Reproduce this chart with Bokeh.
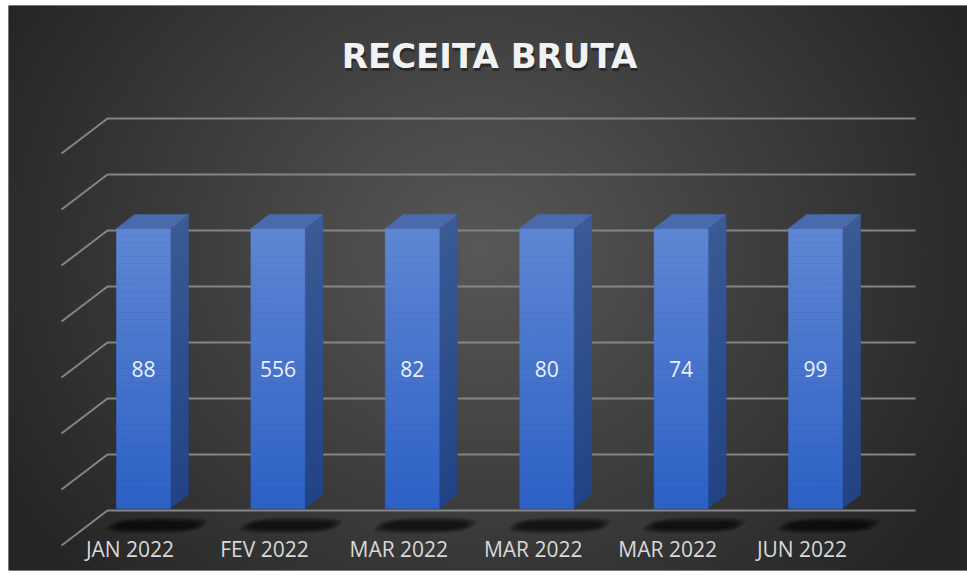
import numpy as np
from bokeh.plotting import figure
from bokeh.models import Range1d, ColumnDataSource
from bokeh.core.properties import value
from bokeh.embed import file_html
from bokeh.resources import INLINE

# ---------------- data ----------------
title_text = "RECEITA BRUTA"
categories = ["JAN 2022", "FEV 2022", "MAR 2022", "MAR 2022", "MAR 2022", "JUN 2022"]
label_values = [88, 556, 82, 80, 74, 99]
bar_heights = [5, 5, 5, 5, 5, 5]          # all columns reach the 5th gridline
grid_levels = [0, 1, 2, 3, 4, 5, 6, 7]

# ---------------- geometry (pixel -> data helpers) ----------------
W, H = 967, 575
BL, BT, BB, BR = 8, 5, 5, 0      # white border around the dark chart area
FX0, FY0 = BL, BT               # page position of the plotting frame
FW_PX, FH_PX = W - BL - BR, H - BT - BB
X_STEP_PX = 134.4               # pixels per category
X0_PX = 143.0                   # page x of category 0
Y_UNIT_PX = 56.0                # pixels per gridline unit
Y0_PX = 510.0                   # page y of value 0 on the back wall

def dx(px):
    return px / X_STEP_PX

def dy(px):
    return px / Y_UNIT_PX

def xd(page_x):
    return (page_x - X0_PX) / X_STEP_PX

def yd(page_y):
    return (Y0_PX - page_y) / Y_UNIT_PX

x_start, x_end = xd(FX0), xd(FX0 + FW_PX)
y_start, y_end = yd(FY0 + FH_PX), yd(FY0)

p = figure(width=W, height=H, x_range=Range1d(x_start, x_end), y_range=Range1d(y_start, y_end),
           toolbar_location=None, output_backend="svg",
           min_border_left=BL, min_border_top=BT, min_border_bottom=BB, min_border_right=BR)
p.axis.visible = False
p.grid.visible = False
p.outline_line_color = None
p.background_fill_color = "#262626"
p.border_fill_color = "white"

# ---------------- background radial gradient ----------------
jj = np.arange(FW_PX) + 0.5 + FX0
ii = (FY0 + FH_PX) - (np.arange(FH_PX) + 0.5)
PXg, PYg = np.meshgrid(jj, ii)
t = np.sqrt(((PXg - 480) / 560.0) ** 2 + ((PYg - 250) / 500.0) ** 2)
t = np.clip(t, 0, 1)
g = (88 - 52 * t).astype(np.uint32)
img = (g | (g << 8) | (g << 16) | (np.uint32(255) << 24)).astype(np.uint32)
p.image_rgba(image=[img], x=x_start, y=y_start, dw=x_end - x_start, dh=y_end - y_start)

# ---------------- back wall gridlines + left side ----------------
wall_l, wall_r = xd(107), xd(915)
side_dx, side_dy = dx(-46), dy(-35)
gx, gy = [], []
for lv in grid_levels:
    gx.append([wall_l + side_dx, wall_l, wall_r])
    gy.append([lv + side_dy, lv, lv])
p.multi_line(xs=gx, ys=gy, line_color="#858585", line_width=2)

# ---------------- shadows (soft skewed rounded shapes) ----------------
ang = np.linspace(0, 2 * np.pi, 48, endpoint=False)
cs, sn = np.cos(ang), np.sin(ang)
expo = 2.0 / 3.0
sx, sy, sa = [], [], []
for i in range(len(categories)):
    for k in range(12):
        e = 11 - 1.0 * k
        rx, ry = 38 + e, 3 + e * 0.5
        ex = rx * np.sign(cs) * np.abs(cs) ** expo
        ey = ry * np.sign(sn) * np.abs(sn) ** expo     # page-pixel offsets (down positive)
        ex = ex - ey * 1.2                              # skew: lower part shifts left
        sx.append(list(i + dx(13 + ex)))
        sy.append(list(yd(525 + ey)))
        sa.append(0.075)
p.patches(xs=sx, ys=sy, fill_color="#000000", fill_alpha=sa, line_color=None)

# ---------------- 3D columns ----------------
FW = dx(54)
DX, DY = dx(18), dy(14)
BASE = dy(2)
N = 40

def lerp(c1, c2, f):
    return "#%02x%02x%02x" % tuple(int(round(a + (b - a) * f)) for a, b in zip(c1, c2))

front_top, front_bot = (94, 134, 212), (45, 97, 198)
side_top, side_bot = (59, 90, 150), (33, 68, 134)
top_col = "#4a6aad"

fx, fy, fc = [], [], []
sxs, sys_, scs = [], [], []
tx, ty = [], []
for i, h in enumerate(bar_heights):
    l, r = i - FW / 2, i + FW / 2
    for k in range(N):
        y1 = BASE + h * k / N
        y2 = BASE + h * (k + 1) / N + 0.002
        f = (k + 0.5) / N
        fx.append([l, r, r, l]); fy.append([y1, y1, y2, y2]); fc.append(lerp(front_bot, front_top, f))
        sxs.append([r, r + DX, r + DX, r]); sys_.append([y1, y1 + DY, y2 + DY, y2])
        scs.append(lerp(side_bot, side_top, f))
    top = BASE + h
    tx.append([l, r, r + DX, l + DX]); ty.append([top, top, top + DY, top + DY])

p.patches(xs=sxs, ys=sys_, fill_color=scs, line_color=scs, line_width=0.5)
p.patches(xs=fx, ys=fy, fill_color=fc, line_color=fc, line_width=0.5)
p.patches(xs=tx, ys=ty, fill_color=top_col, line_color=top_col, line_width=0.5)

# ---------------- data labels ----------------
lab_src = ColumnDataSource(dict(
    x=list(range(len(categories))),
    y=[BASE + h / 2 for h in bar_heights],
    t=[str(v) for v in label_values]))
p.text(x="x", y="y", text="t", source=lab_src, text_font=value("Open Sans"),
       text_font_size="21px", text_align="center", text_baseline="middle", text_color="#eef1f8")

# ---------------- category labels ----------------
cat_src = ColumnDataSource(dict(
    x=[i + dx(-13.5) for i in range(len(categories))],
    y=[yd(548.5)] * len(categories),
    t=categories))
p.text(x="x", y="y", text="t", source=cat_src, text_font=value("Open Sans"),
       text_font_size="21px", text_align="center", text_baseline="middle", text_color="#d9d9d9")

# ---------------- title ----------------
p.text(x=[xd(489)], y=[yd(55)], text=[title_text], text_font=value("DejaVu Sans"),
       text_font_style="bold", text_font_size="34px", text_align="center", text_baseline="middle",
       text_color="#000000", text_alpha=0.4, x_offset=1, y_offset=3)
p.text(x=[xd(489)], y=[yd(55)], text=[title_text], text_font=value("DejaVu Sans"),
       text_font_style="bold", text_font_size="34px", text_align="center", text_baseline="middle",
       text_color="#f2f2f2")

open("out.html", "w").write(file_html(p, INLINE))
